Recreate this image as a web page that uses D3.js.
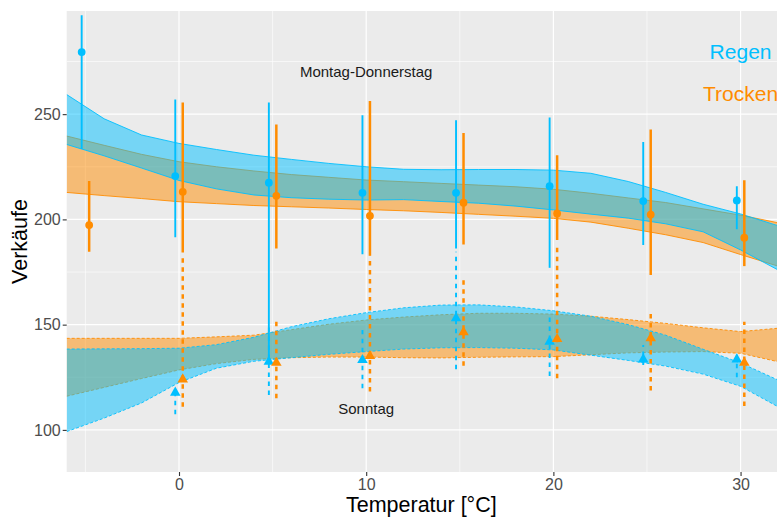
<!DOCTYPE html>
<html>
<head>
<meta charset="utf-8">
<script src="https://cdn.jsdelivr.net/npm/d3@7"></script>
<style>
html,body{margin:0;padding:0;background:#fff;}
text{font-family:"Liberation Sans",Arial,Helvetica,sans-serif;}
</style>
</head>
<body>
<script>
// ---------------- DATA ----------------
const temps = [-5, 0, 5, 10, 15, 20, 25, 30];
const tempsSun = [0, 5, 10, 15, 20, 25, 30];
const groups = ["Regen", "Trocken"];

// Montag-Donnerstag (points + error bars)
const monRegenMean  = [279.5, 220.6, 217.4, 212.6, 212.6, 215.8, 208.7, 209.0];
const monRegenLow   = [233.4, 191.5, 132.0, 183.4, 186.2, 177.0, 187.8, 195.3];
const monRegenHigh  = [297.0, 257.0, 255.5, 249.5, 247.1, 248.4, 236.8, 215.8];
const monTrockMean  = [197.3, 213.1, 211.2, 201.7, 207.9, 202.8, 202.3, 191.3];
const monTrockLow   = [184.6, 184.3, 186.2, 182.7, 188.1, 190.2, 173.6, 177.8];
const monTrockHigh  = [218.2, 255.5, 245.1, 256.3, 241.1, 230.5, 242.7, 218.6];

// Sonntag (points + error bars)
const sunRegenMean  = [117.7, 132.4, 133.2, 153.0, 141.9, 133.5, 133.5];
const sunRegenLow   = [107.4, 116.6, 119.8, 128.8, 125.6, 130.8, 125.0];
const sunRegenHigh  = [120.0, 150.0, 147.5, 184.6, 154.6, 140.3, 136.0];
const sunTrockMean  = [124.0, 131.9, 135.1, 146.4, 143.2, 143.5, 131.9];
const sunTrockLow   = [111.0, 115.0, 118.2, 130.5, 124.5, 118.7, 111.4];
const sunTrockHigh  = [183.1, 152.2, 181.6, 171.5, 188.6, 155.4, 151.4];

// Model ribbons
const ribbonT = [-6,-4,-2,0,2,4,6,8,10,12,14,16,18,20,22,24,26,28,30,32];
const monRegenBandLow  = [235.6,230.2,224.4,218.5,214.5,211.6,210.3,209.6,209.2,209.4,208.5,207.7,206.3,204.5,202.5,200.6,197.9,194.1,185.5,176.0];
const monRegenBandHigh = [259.3,247.8,240.1,236.1,233.2,230.5,228.5,226.6,225.0,223.8,223.6,223.7,223.7,223.4,221.9,218.0,212.8,207.2,202.6,197.0];
const monTrockBandLow  = [212.8,211.3,209.9,208.4,207.5,206.6,206.0,205.4,204.7,204.1,203.3,202.4,201.5,200.5,198.7,195.8,192.7,189.0,183.3,177.8];
const monTrockBandHigh = [239.6,235.2,230.9,227.4,225.0,223.0,221.3,220.0,218.7,217.9,217.1,216.3,215.5,214.3,212.4,210.2,208.0,205.0,202.0,198.4];
const sunRegenBandLow  = [99.2,105.6,112.8,122.5,129.3,132.6,134.3,135.9,137.2,138.4,139.0,139.1,138.8,138.0,135.5,133.0,130.3,126.5,120.7,111.0];
const sunRegenBandHigh = [138.4,138.5,138.6,138.8,140.5,144.0,149.0,152.8,155.7,158.0,159.3,159.4,158.4,156.6,154.0,150.0,145.0,138.3,131.8,123.7];
const sunTrockBandLow  = [116.0,120.2,124.4,128.5,131.5,133.5,134.3,134.6,134.6,134.3,134.2,134.5,134.7,134.8,135.7,136.6,137.0,137.2,136.4,132.4];
const sunTrockBandHigh = [143.5,143.5,143.5,143.5,144.2,145.0,147.6,150.2,152.2,153.6,154.7,155.4,155.4,155.0,154.0,152.4,150.6,148.5,146.7,148.3];

const xTicks = [0, 10, 20, 30];
const yTicks = [100, 150, 200, 250];
const xMinor = [-5, 5, 15, 25];
const yMinor = [125, 175, 225, 275];

const labels = [
  {t: "Montag-Donnerstag", x: 10, y: 270, c: "#1a1a1a", s: 15},
  {t: "Sonntag", x: 10, y: 110, c: "#1a1a1a", s: 15},
  {t: "Regen", x: 30, y: 280, c: "#00BFFF", s: 21},
  {t: "Trocken", x: 30, y: 260, c: "#FF8C00", s: 21}
];

// ---------------- CHART ----------------
const W = 777, H = 517;
const P = {l: 66.7, r: 778, t: 11, b: 472};
const colors = {Regen: "#00BFFF", Trocken: "#FF8C00"};
const dodge = {Regen: -0.2, Trocken: 0.2};

const x = d3.scaleLinear().domain([-6, 32]).range([P.l, P.r]);
const y = d3.scaleLinear().domain([80, 299]).range([P.b, P.t]);

const svg = d3.select("body").append("svg").attr("width", W).attr("height", H);
svg.append("rect").attr("width", W).attr("height", H).attr("fill", "#fff");

svg.append("clipPath").attr("id", "pc").append("rect")
  .attr("x", P.l).attr("y", P.t).attr("width", P.r - P.l).attr("height", P.b - P.t);

svg.append("rect").attr("x", P.l).attr("y", P.t).attr("width", P.r - P.l).attr("height", P.b - P.t)
  .attr("fill", "#EBEBEB");

const panel = svg.append("g").attr("clip-path", "url(#pc)");

// grid
panel.selectAll(".ymin").data(yMinor).join("line")
  .attr("x1", P.l).attr("x2", P.r).attr("y1", d => y(d)).attr("y2", d => y(d))
  .attr("stroke", "#fff").attr("stroke-width", 0.6);
panel.selectAll(".xmin").data(xMinor).join("line")
  .attr("y1", P.t).attr("y2", P.b).attr("x1", d => x(d)).attr("x2", d => x(d))
  .attr("stroke", "#fff").attr("stroke-width", 0.6);
panel.selectAll(".ymaj").data(yTicks).join("line")
  .attr("x1", P.l).attr("x2", P.r).attr("y1", d => y(d)).attr("y2", d => y(d))
  .attr("stroke", "#fff").attr("stroke-width", 1.2);
panel.selectAll(".xmaj").data(xTicks).join("line")
  .attr("y1", P.t).attr("y2", P.b).attr("x1", d => x(d)).attr("x2", d => x(d))
  .attr("stroke", "#fff").attr("stroke-width", 1.2);

// ribbons
function ribbon(lo, hi, col, dashed) {
  const data = ribbonT.map((t, i) => ({t, lo: lo[i], hi: hi[i]}));
  const area = d3.area().x(d => x(d.t)).y0(d => y(d.lo)).y1(d => y(d.hi));
  panel.append("path").attr("d", area(data)).attr("fill", col).attr("fill-opacity", 0.5);
  const lineLo = d3.line().x(d => x(d.t)).y(d => y(d.lo));
  const lineHi = d3.line().x(d => x(d.t)).y(d => y(d.hi));
  [lineLo, lineHi].forEach(l => {
    panel.append("path").attr("d", l(data)).attr("fill", "none").attr("stroke", col)
      .attr("stroke-width", 0.9).attr("stroke-dasharray", dashed ? "3,2" : null);
  });
}
ribbon(monTrockBandLow, monTrockBandHigh, colors.Trocken, false);
ribbon(monRegenBandLow, monRegenBandHigh, colors.Regen, false);
ribbon(sunTrockBandLow, sunTrockBandHigh, colors.Trocken, true);
ribbon(sunRegenBandLow, sunRegenBandHigh, colors.Regen, true);

// error bars
function bars(ts, mean, lo, hi, grp, dashed) {
  const data = ts.map((t, i) => ({t: t + dodge[grp], m: mean[i], lo: lo[i], hi: hi[i]}));
  panel.append("g").selectAll("line").data(data).join("line")
    .attr("x1", d => x(d.t)).attr("x2", d => x(d.t))
    .attr("y1", d => y(d.lo)).attr("y2", d => y(d.hi))
    .attr("stroke", colors[grp]).attr("stroke-width", grp === "Regen" ? 1.9 : 2.5)
    .attr("stroke-dasharray", dashed ? "4.5,4.5" : null);
  return data;
}
const mR = bars(temps, monRegenMean, monRegenLow, monRegenHigh, "Regen", false);
const mT = bars(temps, monTrockMean, monTrockLow, monTrockHigh, "Trocken", false);
const sR = bars(tempsSun, sunRegenMean, sunRegenLow, sunRegenHigh, "Regen", true);
const sT = bars(tempsSun, sunTrockMean, sunTrockLow, sunTrockHigh, "Trocken", true);

// points
[[mR, "Regen"], [mT, "Trocken"]].forEach(([d, g]) => {
  panel.append("g").selectAll("circle").data(d).join("circle")
    .attr("cx", p => x(p.t)).attr("cy", p => y(p.m)).attr("r", 3.9).attr("fill", colors[g]);
});
const tri = d3.symbol().type(d3.symbolTriangle).size(48);
[[sR, "Regen"], [sT, "Trocken"]].forEach(([d, g]) => {
  panel.append("g").selectAll("path").data(d).join("path")
    .attr("d", tri).attr("transform", p => `translate(${x(p.t)},${y(p.m)})`).attr("fill", colors[g]);
});

// annotations
svg.append("g").selectAll("text").data(labels).join("text")
  .attr("x", d => x(d.x)).attr("y", d => y(d.y)).attr("dy", "0.36em")
  .attr("text-anchor", "middle").attr("fill", d => d.c).attr("font-size", d => d.s)
  .text(d => d.t);

// axes
const ax = svg.append("g").attr("transform", `translate(${P.l},0)`)
  .call(d3.axisLeft(y).tickValues(yTicks).tickSize(4).tickPadding(2));
const bx = svg.append("g").attr("transform", `translate(0,${P.b})`)
  .call(d3.axisBottom(x).tickValues(xTicks).tickSize(4).tickPadding(3));
[ax, bx].forEach(a => {
  a.select(".domain").remove();
  a.selectAll(".tick line").attr("stroke", "#333").attr("stroke-width", 1.1);
  a.selectAll(".tick text").attr("fill", "#4D4D4D").attr("font-size", 16)
    .attr("font-family", "Liberation Sans, Arial, sans-serif");
});

svg.append("text").attr("x", (P.l + P.r) / 2 - 1).attr("y", 512)
  .attr("text-anchor", "middle").attr("font-size", 21.5).attr("fill", "#000").text("Temperatur [°C]");
svg.append("text").attr("transform", `translate(27,${(P.t + P.b) / 2}) rotate(-90)`)
  .attr("text-anchor", "middle").attr("font-size", 21.5).attr("fill", "#000").text("Verkäufe");
</script>
</body>
</html>
